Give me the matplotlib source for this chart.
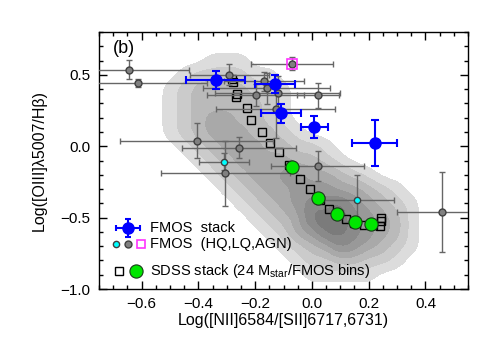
import numpy as np
import matplotlib.pyplot as plt
from matplotlib.ticker import MultipleLocator

plt.rcParams['font.family'] = ['Liberation Sans', 'DejaVu Sans']
plt.rcParams['mathtext.fontset'] = 'custom'
plt.rcParams['mathtext.rm'] = 'Liberation Sans'
plt.rcParams['mathtext.it'] = 'Liberation Sans:italic'

# SDSS density levels (rows from y=0.8 down to y=-1.0, columns x=-0.75..0.55)
sdss_x = np.linspace(-0.75, 0.55, 27)
sdss_y = np.linspace(0.8, -1.0, 19)
sdss_rows = [
    "000000000000000000000000000",
    "000000000000000000000000000",
    "000000001110000000000000000",
    "000000122221100000000000000",
    "000001233332210000000000000",
    "000001233333210000000000000",
    "000001234433210000000000000",
    "000001234443321000000000000",
    "000000123444332210000000000",
    "000000012344443321000000000",
    "000000001234455443210000000",
    "000000000123445554432100000",
    "000000000012345667543210000",
    "000000000001234777654310000",
    "000000000000124577654310000",
    "000000000000012346543210000",
    "000000000000001223322100000",
    "000000000000000111110000000",
    "000000000000000000000000000",
]
gray_shades = ['#dcdcdc', '#cbcbcb', '#bababa', '#a9a9a9', '#999999', '#8a8a8a', '#7b7b7b']

# SDSS stacks (24 Mstar / FMOS bins)
sq_x = [-0.280, -0.277, -0.263, -0.266, -0.228, -0.214, -0.177, -0.146, -0.115, -0.079,
        -0.041, -0.007, 0.027, 0.062, 0.092, 0.120, 0.148, 0.185, 0.214, 0.242, 0.242, 0.239]
sq_y = [0.470, 0.452, 0.368, 0.345, 0.268, 0.182, 0.098, 0.023, -0.037, -0.131,
        -0.228, -0.303, -0.378, -0.437, -0.476, -0.509, -0.537, -0.551, -0.551, -0.502, -0.526, -0.556]
green_x = [-0.069, 0.020, 0.089, 0.151, 0.209]
green_y = [-0.147, -0.361, -0.473, -0.531, -0.548]

# FMOS individual (LQ)
lq_x = [-0.645, -0.614, -0.291, -0.168, -0.159, -0.198, -0.120, 0.021, -0.127,
        -0.406, -0.256, -0.305, 0.020, 0.460]
lq_y = [0.537, 0.444, 0.502, 0.455, 0.405, 0.358, 0.370, 0.356, 0.258,
        0.040, -0.009, -0.191, -0.138, -0.464]
lq_xerr = [0.213, 0.246, 0.140, 0.140, 0.223, 0.170, 0.220, 0.075, 0.210,
           0.270, 0.200, 0.227, 0.165, 0.160]
lq_yerr = [0.067, 0.030, 0.076, 0.065, 0.110, 0.077, 0.120, 0.085, 0.200,
           0.124, 0.076, 0.230, 0.105, 0.280]

# FMOS individual (HQ)
hq_x = [-0.309, 0.160]
hq_y = [-0.110, -0.378]
hq_xerr = [0.088, 0.130]
hq_yerr = [0.060, 0.178]

# FMOS AGN
agn_x = [-0.070]
agn_y = [0.578]
agn_xerr = [0.145]
agn_yerr = [0.045]

# FMOS stacks
st_x = [-0.338, -0.130, -0.109, 0.009, 0.221]
st_y = [0.466, 0.436, 0.231, 0.133, 0.021]
st_xerr = [0.104, 0.071, 0.069, 0.049, 0.079]
st_yerr = [0.062, 0.061, 0.068, 0.077, 0.161]

fig = plt.figure(figsize=(4.98, 3.56), dpi=100)
ax = fig.add_axes([0.1988, 0.1882, 0.741, 0.7219])

# density grid -> finer grid + light smoothing so the contours are not blocky
Z = np.array([[int(c) for c in r] for r in sdss_rows], dtype=float)[::-1]
ys = sdss_y[::-1]
k = 4
xf = np.linspace(sdss_x[0], sdss_x[-1], (len(sdss_x) - 1) * k + 1)
yf = np.linspace(ys[0], ys[-1], (len(ys) - 1) * k + 1)
Zx = np.array([np.interp(xf, sdss_x, row) for row in Z])
Zf = np.array([np.interp(yf, ys, col) for col in Zx.T]).T
kern = np.ones(5) / 5.0
Zf = np.apply_along_axis(lambda v: np.convolve(v, kern, mode='same'), 0, Zf)
Zf = np.apply_along_axis(lambda v: np.convolve(v, kern, mode='same'), 1, Zf)
ax.contourf(xf, yf, Zf, levels=np.arange(0.5, 7.6, 1.0), colors=gray_shades, zorder=1)

ax.plot(sq_x, sq_y, 's', ms=5.3, mfc='none', mec='black', mew=1.0, zorder=2)

ebkw = dict(fmt='o', ecolor='#666666', elinewidth=1.0, capsize=2.5, capthick=1.0, zorder=3)
ax.errorbar(lq_x, lq_y, xerr=lq_xerr, yerr=lq_yerr, ms=5, mfc='#808080', mec='#404040', **ebkw)
ax.errorbar(agn_x, agn_y, xerr=agn_xerr, yerr=agn_yerr, ms=5, mfc='#808080', mec='#404040', **ebkw)
ax.plot(agn_x, agn_y, 's', ms=7, mfc='none', mec='#ff33ff', mew=1.2, zorder=4)
ax.errorbar(hq_x, hq_y, xerr=hq_xerr, yerr=hq_yerr, ms=4.5, mfc='#00ffff', mec='#404040', **ebkw)

ax.plot(green_x, green_y, 'o', ms=9.5, mfc='#00e600', mec='#1a3a1a', mew=0.8, zorder=5)

ax.errorbar(st_x, st_y, xerr=st_xerr, yerr=st_yerr, fmt='o', ms=8, color='#0000ff',
            elinewidth=1.5, capsize=3, capthick=1.5, zorder=6)

# legend, drawn by hand
tr = ax.transAxes
ax.errorbar([0.0786], [0.237], xerr=[0.0325], yerr=[0.035], fmt='o', ms=8, color='#0000ff',
            elinewidth=1.5, capsize=2.5, capthick=1.5, transform=tr, clip_on=False, zorder=7)
ax.plot([0.046], [0.175], 'o', ms=4.5, mfc='#00ffff', mec='#404040', transform=tr, zorder=7)
ax.plot([0.0786], [0.175], 'o', ms=5, mfc='#808080', mec='#404040', transform=tr, zorder=7)
ax.plot([0.114], [0.175], 's', ms=6, mfc='none', mec='#ff33ff', mew=1.2, transform=tr, zorder=7)
ax.plot([0.054], [0.070], 's', ms=5.3, mfc='none', mec='black', mew=1.0, transform=tr, zorder=7)
ax.plot([0.100], [0.070], 'o', ms=9.5, mfc='#00e600', mec='#1a3a1a', mew=0.8, transform=tr, zorder=7)
ax.text(0.138, 0.237, 'FMOS  stack', transform=tr, fontsize=10.5, va='center')
ax.text(0.138, 0.175, 'FMOS  (HQ,LQ,AGN)', transform=tr, fontsize=10.5, va='center')
ax.text(0.138, 0.070, r'SDSS stack (24 M$_{\rm star}$/FMOS bins)', transform=tr, fontsize=10.5, va='center')
ax.text(0.038, 0.934, '(b)', transform=tr, fontsize=13, va='center')

ax.set_xlim(-0.75, 0.55)
ax.set_ylim(-1.0, 0.8)
ax.xaxis.set_major_locator(MultipleLocator(0.2))
ax.xaxis.set_minor_locator(MultipleLocator(0.05))
ax.yaxis.set_major_locator(MultipleLocator(0.5))
ax.yaxis.set_minor_locator(MultipleLocator(0.1))
ax.tick_params(which='both', direction='in', top=True, right=True, labelsize=11, width=1)
ax.tick_params(which='major', length=6, pad=6)
ax.tick_params(which='minor', length=3)
for s in ax.spines.values():
    s.set_linewidth(1.0)

ax.set_xlabel('Log([NII]6584/[SII]6717,6731)', fontsize=11.5, labelpad=1)
ax.set_ylabel('Log([OIII]λ5007/Hβ)', fontsize=11.5, labelpad=10)

fig.savefig('out.png', dpi=100)
